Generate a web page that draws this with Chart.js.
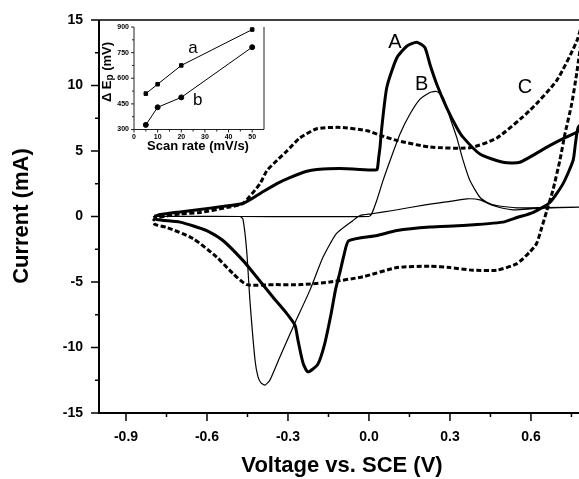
<!DOCTYPE html>
<html>
<head>
<meta charset="utf-8">
<script src="https://cdn.jsdelivr.net/npm/chart.js@4.4.0/dist/chart.umd.min.js"></script>
<style>
body { margin: 0; background: #fff; }
#wrap { position: relative; width: 579px; height: 479px; }
#main { position: absolute; left: 0; top: 0; width: 579px; height: 479px; }
#inset { position: absolute; left: 95px; top: 18px; width: 180px; height: 137px; }
</style>
</head>
<body>
<div id="wrap">
  <div id="main"><canvas id="cv"></canvas></div>
  <div id="inset"><canvas id="cvInset"></canvas></div>
</div>
<script>
// curve A (thick solid) - potential (V) and current (mA)
var aV = [-0.795, -0.774, -0.70, -0.626, -0.55, -0.467, -0.40, -0.341, -0.293, -0.23, -0.193, -0.107, 0.015, 0.030, 0.036, 0.041, 0.046, 0.066, 0.103, 0.140, 0.177, 0.207, 0.226, 0.251, 0.288, 0.325, 0.349, 0.411, 0.497, 0.559, 0.658, 0.719, 0.778, 0.80,
          0.775, 0.765, 0.756, 0.719, 0.670, 0.607, 0.548, 0.496, 0.348, 0.226, 0.104, 0.030, -0.075, -0.092, -0.108, -0.124, -0.140, -0.165, -0.19, -0.226, -0.244, -0.263, -0.274, -0.305, -0.356, -0.416, -0.467, -0.541, -0.601, -0.70, -0.786, -0.795];
var aI = [0.0, 0.15, 0.35, 0.53, 0.75, 0.99, 1.8, 2.51, 2.97, 3.45, 3.58, 3.66, 3.55, 3.58, 4.5, 5.3, 6.5, 9.85, 12.1, 13.0, 13.3, 12.9, 11.6, 10.1, 8.3, 6.8, 6.04, 4.77, 4.14, 4.14, 5.28, 5.94, 6.55, 7.3,
          6.8, 5.6, 4.27, 2.51, 1.07, 0.30, -0.08, -0.43, -0.69, -0.81, -1.07, -1.45, -1.85, -2.9, -4.3, -5.6, -7.4, -9.8, -11.3, -11.86, -11.2, -9.44, -8.3, -7.39, -6.15, -4.62, -3.35, -1.83, -1.07, -0.43, -0.23, 0.0];

// curve B (thin solid)
var bV = [-0.80, -0.47, 0.0, 0.010, 0.030, 0.052, 0.078, 0.115, 0.152, 0.189, 0.226, 0.251, 0.275, 0.30, 0.325, 0.349, 0.374, 0.411, 0.445, 0.473, 0.547, 0.65, 0.80,
          0.70, 0.607, 0.533, 0.459, 0.411, 0.362, 0.30, 0.214, 0.089, 0.010, -0.033, -0.059, -0.12, -0.170, -0.219, -0.281, -0.330, -0.367, -0.385, -0.40, -0.411, -0.422, -0.441, -0.453, -0.467, -0.478, -0.80];
var bI = [0, 0, 0, 0.2, 1.3, 2.74, 4.26, 6.3, 7.82, 8.96, 9.47, 9.54, 9.09, 7.56, 6.04, 4.26, 2.74, 1.47, 1.0, 0.84, 0.66, 0.68, 0.72,
          0.68, 0.59, 0.51, 0.84, 1.27, 1.35, 1.15, 0.91, 0.46, 0.21, 0.08, -0.30, -1.29, -3.10, -5.64, -8.43, -10.72, -12.49, -12.87, -12.7, -12.24, -10.97, -6.40, -2.59, -0.18, 0, 0];

// curve C (dashed)
var cV = [-0.80, -0.785, -0.70, -0.626, -0.526, -0.467, -0.404, -0.378, -0.340, -0.304, -0.256, -0.193, -0.107, -0.007, 0.041, 0.104, 0.226, 0.374, 0.474, 0.596, 0.696, 0.770, 0.80,
          0.79, 0.770, 0.751, 0.726, 0.707, 0.681, 0.659, 0.640, 0.621, 0.596, 0.548, 0.474, 0.385, 0.30, 0.226, 0.104, -0.022, -0.144, -0.25, -0.35, -0.453, -0.504, -0.564, -0.652, -0.748, -0.793, -0.80];
var cI = [-0.3, -0.1, 0.2, 0.3, 0.69, 1.0, 2.5, 3.5, 4.3, 5.0, 6.0, 6.7, 6.8, 6.55, 6.2, 5.8, 5.3, 5.25, 6.0, 8.1, 10.4, 13.4, 15.5,
          14.0, 11.0, 8.6, 6.3, 4.27, 1.98, 0.46, -0.84, -2.06, -2.7, -3.6, -4.1, -4.1, -3.9, -3.8, -3.9, -4.6, -5.0, -5.2, -5.2, -5.2, -4.35, -3.1, -1.68, -0.84, -0.6, -0.3];

var xMajor = [-0.9, -0.6, -0.3, 0.0, 0.3, 0.6];
var xMinor = [-0.75, -0.45, -0.15, 0.15, 0.45, 0.75];
var yMajor = [-15, -10, -5, 0, 5, 10, 15];
var yMinor = [-12.5, -7.5, -2.5, 2.5, 7.5, 12.5];

// inset: peak separation vs scan rate
var scanRate = [5, 10, 20, 50];
var epA = [510, 565, 675, 885];
var epB = [327, 430, 488, 782];
var insetX = [0, 10, 20, 30, 40, 50];
var insetXMinor = [5, 15, 25, 35, 45];
var insetY = [300, 450, 600, 750, 900];
var insetYMinor = [375, 525, 675, 825];

var FONT = "'Liberation Sans', Arial, sans-serif";
Chart.defaults.font.family = FONT;
Chart.defaults.color = '#000';

function pts(xs, ys) {
  return xs.map(function (x, i) { return { x: x, y: ys[i] }; });
}

// drop the extra padding chart.js reserves for end labels
function noPad(s) {
  s.paddingTop = 0; s.paddingBottom = 0; s.paddingLeft = 0; s.paddingRight = 0;
}

var mainDeco = {
  id: 'mainDeco',
  afterDraw: function (chart) {
    var ctx = chart.ctx, ca = chart.chartArea;
    var xs = chart.scales.x, ys = chart.scales.y;
    ctx.save();
    ctx.strokeStyle = '#000';
    ctx.lineWidth = 2;
    ctx.beginPath();
    ctx.moveTo(ca.left, ca.top);
    ctx.lineTo(ca.left, ca.bottom);
    ctx.lineTo(ca.right, ca.bottom);
    ctx.stroke();
    ctx.lineWidth = 1.5;
    ctx.beginPath();
    ctx.moveTo(ca.left, ca.top);
    ctx.lineTo(ca.right, ca.top);
    ctx.stroke();
    // tick marks
    xMajor.forEach(function (v) {
      var p = xs.getPixelForValue(v);
      ctx.beginPath(); ctx.moveTo(p, ca.bottom); ctx.lineTo(p, ca.bottom + 8); ctx.stroke();
    });
    xMinor.forEach(function (v) {
      var p = xs.getPixelForValue(v);
      ctx.beginPath(); ctx.moveTo(p, ca.bottom); ctx.lineTo(p, ca.bottom + 4); ctx.stroke();
    });
    yMajor.forEach(function (v) {
      var p = ys.getPixelForValue(v);
      ctx.beginPath(); ctx.moveTo(ca.left, p); ctx.lineTo(ca.left - 8, p); ctx.stroke();
    });
    yMinor.forEach(function (v) {
      var p = ys.getPixelForValue(v);
      ctx.beginPath(); ctx.moveTo(ca.left, p); ctx.lineTo(ca.left - 4, p); ctx.stroke();
    });
    // curve labels
    ctx.fillStyle = '#000';
    ctx.font = '20px ' + FONT;
    ctx.textAlign = 'center';
    ctx.textBaseline = 'middle';
    ctx.fillText('A', xs.getPixelForValue(0.096), ys.getPixelForValue(13.3));
    ctx.fillText('B', xs.getPixelForValue(0.195), ys.getPixelForValue(10.1));
    ctx.fillText('C', xs.getPixelForValue(0.578), ys.getPixelForValue(9.85));
    // axis titles
    ctx.font = 'bold 22px ' + FONT;
    ctx.fillText('Voltage vs. SCE (V)', 342, 466);
    ctx.translate(22, 216);
    ctx.rotate(-Math.PI / 2);
    ctx.fillText('Current (mA)', 0, 0);
    ctx.restore();
  }
};

new Chart(document.getElementById('cv'), {
  type: 'line',
  data: {
    datasets: [
      { data: pts(cV, cI), borderColor: '#000', borderWidth: 3, borderDash: [5, 2.5], pointRadius: 0, tension: 0.2, fill: false },
      { data: pts(bV, bI), borderColor: '#000', borderWidth: 1.2, pointRadius: 0, tension: 0.2, fill: false },
      { data: pts(aV, aI), borderColor: '#000', borderWidth: 3, pointRadius: 0, tension: 0.2, fill: false }
    ]
  },
  options: {
    responsive: true,
    maintainAspectRatio: false,
    animation: false,
    layout: { padding: { top: 20, right: 0, left: 0, bottom: 0 } },
    plugins: { legend: { display: false }, tooltip: { enabled: false } },
    scales: {
      x: {
        type: 'linear', min: -1.0, max: 0.778,
        afterBuildTicks: function (s) { s.ticks = xMajor.map(function (v) { return { value: v }; }); },
        afterFit: function (s) { s.height = 66; noPad(s); },
        grid: { display: false, drawTicks: false },
        border: { display: false },
        ticks: {
          autoSkip: false, maxRotation: 0, padding: 16,
          font: { size: 14, weight: 'bold' },
          callback: function (v) { return Number(v).toFixed(1); }
        }
      },
      y: {
        type: 'linear', min: -15, max: 15,
        afterBuildTicks: function (s) { s.ticks = yMajor.map(function (v) { return { value: v }; }); },
        afterFit: function (s) { s.width = 99; noPad(s); },
        grid: { display: false, drawTicks: false },
        border: { display: false },
        ticks: {
          padding: 16,
          font: { size: 14, weight: 'bold' },
          callback: function (v) { return String(v); }
        }
      }
    }
  },
  plugins: [mainDeco]
});

var insetDeco = {
  id: 'insetDeco',
  afterDraw: function (chart) {
    var ctx = chart.ctx, ca = chart.chartArea;
    var xs = chart.scales.x, ys = chart.scales.y;
    ctx.save();
    ctx.strokeStyle = '#222';
    ctx.lineWidth = 1;
    ctx.beginPath();
    ctx.moveTo(ca.left, ca.top);
    ctx.lineTo(ca.left, ca.bottom);
    ctx.lineTo(ca.right, ca.bottom);
    ctx.lineTo(ca.right, ca.top);
    ctx.stroke();
    insetX.forEach(function (v) {
      var p = xs.getPixelForValue(v);
      ctx.beginPath(); ctx.moveTo(p, ca.bottom); ctx.lineTo(p, ca.bottom + 3); ctx.stroke();
    });
    insetXMinor.forEach(function (v) {
      var p = xs.getPixelForValue(v);
      ctx.beginPath(); ctx.moveTo(p, ca.bottom); ctx.lineTo(p, ca.bottom + 2); ctx.stroke();
    });
    insetY.forEach(function (v) {
      var p = ys.getPixelForValue(v);
      ctx.beginPath(); ctx.moveTo(ca.left, p); ctx.lineTo(ca.left - 3, p); ctx.stroke();
    });
    insetYMinor.forEach(function (v) {
      var p = ys.getPixelForValue(v);
      ctx.beginPath(); ctx.moveTo(ca.left, p); ctx.lineTo(ca.left - 2, p); ctx.stroke();
    });
    ctx.fillStyle = '#000';
    ctx.textAlign = 'center';
    ctx.textBaseline = 'middle';
    ctx.font = '17px ' + FONT;
    ctx.fillText('a', xs.getPixelForValue(25), ys.getPixelForValue(775));
    ctx.fillText('b', xs.getPixelForValue(27), ys.getPixelForValue(471));
    ctx.font = 'bold 13px ' + FONT;
    ctx.fillText('Scan rate (mV/s)', 103, 128);
    // rotated y title with subscript p
    ctx.translate(12, 54);
    ctx.rotate(-Math.PI / 2);
    ctx.textAlign = 'left';
    var t1 = '\u0394 E', t2 = 'p', t3 = ' (mV)';
    ctx.font = 'bold 13px ' + FONT;
    var w1 = ctx.measureText(t1).width, w3 = ctx.measureText(t3).width;
    ctx.font = 'bold 10px ' + FONT;
    var w2 = ctx.measureText(t2).width;
    var x0 = -(w1 + w2 + w3) / 2;
    ctx.font = 'bold 13px ' + FONT;
    ctx.fillText(t1, x0, 0);
    ctx.font = 'bold 10px ' + FONT;
    ctx.fillText(t2, x0 + w1, 3);
    ctx.font = 'bold 13px ' + FONT;
    ctx.fillText(t3, x0 + w1 + w2, 0);
    ctx.restore();
  }
};

new Chart(document.getElementById('cvInset'), {
  type: 'line',
  data: {
    datasets: [
      { data: pts(scanRate, epA), borderColor: '#000', backgroundColor: '#000', borderWidth: 1, pointStyle: 'rect', pointRadius: 2.5, tension: 0, fill: false },
      { data: pts(scanRate, epB), borderColor: '#000', backgroundColor: '#000', borderWidth: 1, pointStyle: 'circle', pointRadius: 2.5, tension: 0, fill: false }
    ]
  },
  options: {
    responsive: true,
    maintainAspectRatio: false,
    animation: false,
    layout: { padding: { top: 9, right: 11, left: 0, bottom: 0 } },
    plugins: { legend: { display: false }, tooltip: { enabled: false } },
    scales: {
      x: {
        type: 'linear', min: 0, max: 55,
        afterBuildTicks: function (s) { s.ticks = insetX.map(function (v) { return { value: v }; }); },
        afterFit: function (s) { s.height = 25.5; noPad(s); },
        grid: { display: false, drawTicks: false },
        border: { display: false },
        ticks: { autoSkip: false, maxRotation: 0, padding: 3, font: { size: 7, weight: 'bold' } }
      },
      y: {
        type: 'linear', min: 300, max: 900,
        afterBuildTicks: function (s) { s.ticks = insetY.map(function (v) { return { value: v }; }); },
        afterFit: function (s) { s.width = 39; noPad(s); },
        grid: { display: false, drawTicks: false },
        border: { display: false },
        ticks: { padding: 5, font: { size: 7, weight: 'bold' } }
      }
    }
  },
  plugins: [insetDeco]
});
</script>
</body>
</html>
